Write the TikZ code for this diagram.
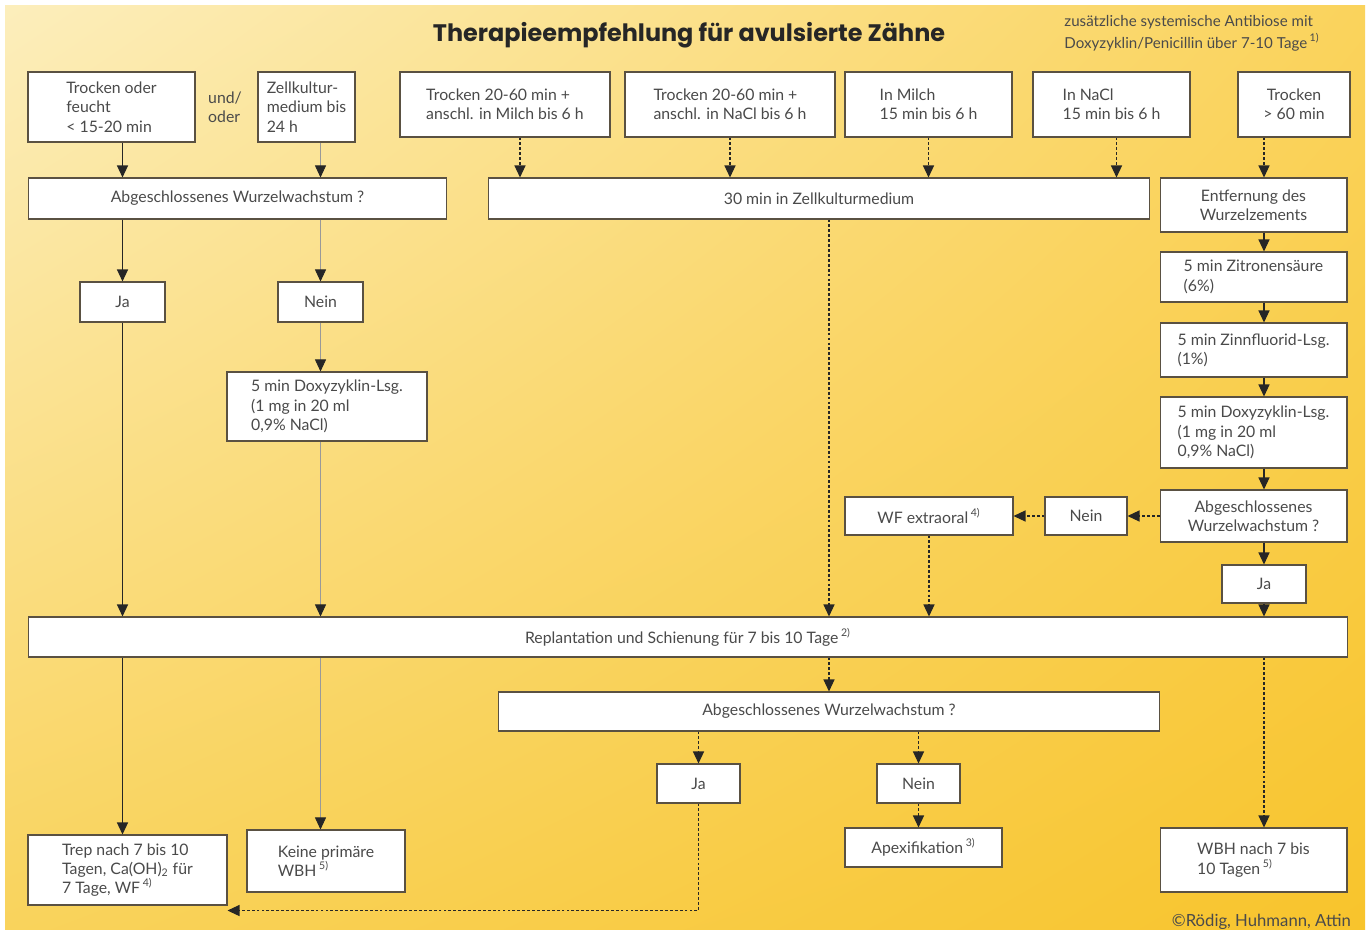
\documentclass[tikz,border=0pt]{standalone}
\usepackage{fontspec}
\setmainfont{Lato}
\newfontfamily\titlefont{Poppins}
\usetikzlibrary{arrows.meta}
\usetikzlibrary{shadings}

\definecolor{bgpale}{HTML}{FCEEBC}
\definecolor{bgtopright}{HTML}{FAD35C}
\definecolor{bglowleft}{HTML}{F9D35C}
\definecolor{bgdeep}{HTML}{F8C42C}
\definecolor{boxline}{HTML}{5A5142}
\definecolor{txtgray}{HTML}{4A4A4A}

\begin{document}
\begin{tikzpicture}[
        x=0.02cm, y=-0.02cm,
        box/.style={draw=boxline, fill=white, line width=0.6pt, inner sep=2pt,
                font=\fontsize{9}{11}\selectfont, text=txtgray, align=left},
        arr/.style={draw=black!85, line width=0.7pt,
                -{Triangle[length=2.4mm, width=2.2mm, color=black!85]}},
        darr/.style={arr, dash pattern=on 1.6pt off 1.2pt},
        larr/.style={arr, draw=black!40, line width=0.4pt} ]

    % background
    \useasboundingbox (0,0) rectangle (1370,933);
    \fill[white] (0,0) rectangle (1370,933);
    \shade[upper left=bgpale, upper right=bgtopright,
        lower left=bglowleft, lower right=bgdeep]
    (5,5) rectangle (1365,929);

    % title and notes
    \node[font=\titlefont\bfseries\fontsize{13.6}{16}\selectfont, text=black!85] (title) at (689,35)
    {Therapieempfehlung für avulsierte Zähne};
    \node[font=\fontsize{8.6}{12.5}\selectfont, text=txtgray, align=left] (note) at (1192,33)
    {zusätzliche systemische Antibiose mit\\Doxyzyklin/Penicillin über 7-10 Tage\,\textsuperscript{1)}};
    \node[font=\fontsize{9.5}{11}\selectfont, text=txtgray, anchor=east] (copy) at (1357,922)
    {©Rödig, Huhmann, Attin};

    % starting situations
    \node[box, minimum width=3.34cm, minimum height=1.40cm] (b1) at (111.5,107)
    {Trocken oder\\feucht\\< 15-20 min};
    \node[font=\fontsize{9}{11}\selectfont, text=txtgray, align=left] (und) at (225,107) {und/\\oder};
    \node[box, minimum width=1.94cm, minimum height=1.40cm] (b2) at (306.5,107)
    {Zellkultur-\\medium bis\\24 h};
    \node[box, minimum width=4.20cm, minimum height=1.30cm] (b3) at (505,104.5)
    {Trocken 20-60 min +\\anschl. in Milch bis 6 h};
    \node[box, minimum width=4.20cm, minimum height=1.30cm] (b4) at (730,104.5)
    {Trocken 20-60 min +\\anschl. in NaCl bis 6 h};
    \node[box, minimum width=3.34cm, minimum height=1.30cm] (b5) at (928.5,104.5)
    {In Milch\\15 min bis 6 h};
    \node[box, minimum width=3.14cm, minimum height=1.30cm] (b6) at (1111.5,104.5)
    {In NaCl\\15 min bis 6 h};
    \node[box, align=center, minimum width=2.24cm, minimum height=1.30cm] (b7) at (1294,104.5)
    {Trocken\\> 60 min};

    % second row
    \node[box, minimum width=8.38cm, minimum height=0.82cm] (q1) at (237.5,198.5)
    {Abgeschlossenes Wurzelwachstum ?};
    \node[box, minimum width=13.24cm, minimum height=0.82cm] (zk) at (819,198.5)
    {30 min in Zellkulturmedium};
    \node[box, align=center, minimum width=3.74cm, minimum height=1.08cm] (ent) at (1253.5,205)
    {Entfernung des\\Wurzelzements};

    % left branch
    \node[box, minimum width=1.70cm, minimum height=0.80cm] (ja1) at (122.5,302) {Ja};
    \node[box, minimum width=1.70cm, minimum height=0.80cm] (nein1) at (320.5,302) {Nein};
    \node[box, minimum width=4.00cm, minimum height=1.38cm] (dox1) at (327,406.5)
    {5 min Doxyzyklin-Lsg.\\(1 mg in 20 ml\\0,9\% NaCl)};

    % right column
    \node[box, minimum width=3.74cm, minimum height=1.00cm] (zit) at (1253.5,277)
    {5 min Zitronensäure\\(6\%)};
    \node[box, minimum width=3.74cm, minimum height=1.08cm] (zin) at (1253.5,350)
    {5 min Zinnfluorid-Lsg.\\(1\%)};
    \node[box, minimum width=3.74cm, minimum height=1.42cm] (dox2) at (1253.5,432.5)
    {5 min Doxyzyklin-Lsg.\\(1 mg in 20 ml\\0,9\% NaCl)};
    \node[box, align=center, minimum width=3.74cm, minimum height=1.04cm] (q2) at (1253.5,516)
    {Abgeschlossenes\\Wurzelwachstum ?};
    \node[box, minimum width=1.68cm, minimum height=0.76cm] (ja2) at (1264,584) {Ja};
    \node[box, minimum width=1.64cm, minimum height=0.76cm] (nein2) at (1086,516) {Nein};
    \node[box, minimum width=3.36cm, minimum height=0.76cm] (wf) at (929,516)
    {WF extraoral\,\textsuperscript{4)}};

    % replantation and after
    \node[box, minimum width=26.40cm, minimum height=0.80cm] (rep) at (688,637)
    {Replantation und Schienung für 7 bis 10 Tage\,\textsuperscript{2)}};
    \node[box, minimum width=13.24cm, minimum height=0.78cm] (q3) at (829,711.5)
    {Abgeschlossenes Wurzelwachstum ?};
    \node[box, minimum width=1.66cm, minimum height=0.78cm] (ja3) at (698.5,783.5) {Ja};
    \node[box, minimum width=1.66cm, minimum height=0.78cm] (nein3) at (918.5,783.5) {Nein};
    \node[box, minimum width=3.14cm, minimum height=0.78cm] (apex) at (923.5,847.5)
    {Apexifikation\,\textsuperscript{3)}};

    % results
    \node[box, minimum width=3.98cm, minimum height=1.40cm] (trep) at (127.5,870)
    {Trep nach 7 bis 10\\Tagen, Ca(OH)\textsubscript{2} für\\7 Tage, WF\,\textsuperscript{4)}};
    \node[box, minimum width=3.16cm, minimum height=1.24cm] (keine) at (326,861)
    {Keine primäre\\WBH\,\textsuperscript{5)}};
    \node[box, minimum width=3.74cm, minimum height=1.28cm] (wbh) at (1253.5,860)
    {WBH nach 7 bis\\10 Tagen\,\textsuperscript{5)}};

    % connectors, left column
    \draw[arr] (b1.south -| ja1) -- (q1.north -| ja1);
    \draw[arr] (q1.south -| ja1) -- (ja1.north);
    \draw[arr] (ja1.south) -- (rep.north -| ja1);
    \draw[arr] (rep.south -| ja1) -- (trep.north -| ja1);

    % connectors, cell culture branch
    \draw[larr] (b2.south -| nein1) -- (q1.north -| nein1);
    \draw[larr] (q1.south -| nein1) -- (nein1.north);
    \draw[larr] (nein1.south) -- (dox1.north -| nein1);
    \draw[larr] (dox1.south -| nein1) -- (rep.north -| nein1);
    \draw[larr] (rep.south -| nein1) -- (keine.north -| nein1);

    % connectors into the cell culture medium
    \draw[darr] ([xshift=0.3cm]b3.south) -- ([xshift=0.3cm]b3.south |- zk.north);
    \draw[darr] (b4.south) -- (b4.south |- zk.north);
    \draw[darr] (b5.south) -- (b5.south |- zk.north);
    \draw[darr] ([xshift=0.1cm]b6.south) -- ([xshift=0.1cm]b6.south |- zk.north);
    \draw[darr] (zk.south -| q3) -- (rep.north -| q3);

    % connectors, right column
    \draw[darr] (b7.south -| ja2) -- (ent.north -| ja2);
    \foreach \a/\b in {ent/zit, zit/zin, zin/dox2, dox2/q2} {
        \draw[arr] (\a.south -| ja2) -- (\b.north -| ja2);
    }
    \draw[arr] (q2.south -| ja2) -- (ja2.north);
    \draw[arr] (ja2.south) -- (rep.north -| ja2);
    \draw[darr] (q2.west) -- (nein2.east);
    \draw[darr] (nein2.west) -- (wf.east);
    \draw[darr] (wf.south) -- (rep.north -| wf);

    % connectors after replantation
    \draw[darr] (rep.south -| q3) -- (q3.north);
    \draw[darr] (q3.south -| ja3) -- (ja3.north);
    \draw[darr] (q3.south -| nein3) -- (nein3.north);
    \draw[darr] (nein3.south) -- (apex.north -| nein3);
    \draw[darr] (ja3.south) |- ([yshift=-0.1cm]trep.south east);
    \draw[darr] (rep.south -| ja2) -- (wbh.north -| ja2);
\end{tikzpicture}
\end{document}
